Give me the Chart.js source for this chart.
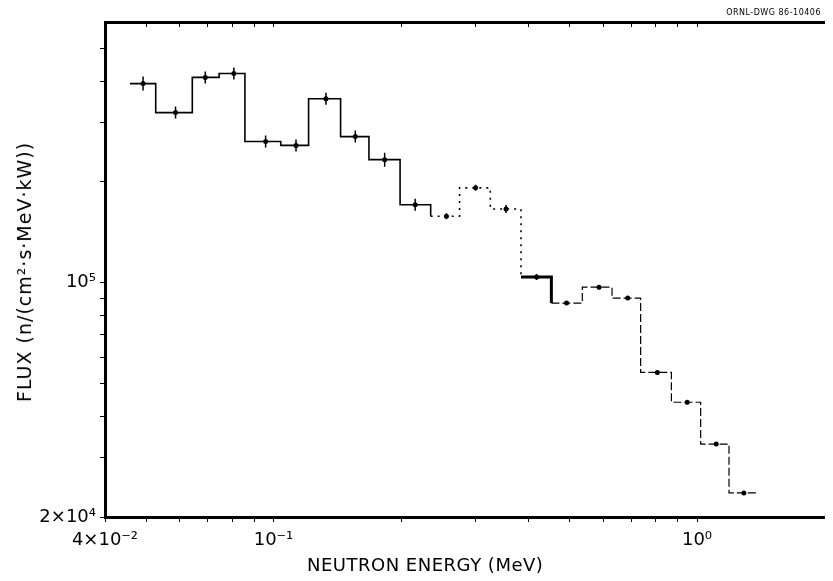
<!DOCTYPE html>
<html>
<head>
<meta charset="utf-8">
<script src="https://cdn.jsdelivr.net/npm/chart.js@4/dist/chart.umd.min.js"></script>
<style>
    body { margin: 0; background: #fff; }
    #wrap { position: relative; width: 833px; height: 581px; }
    #grafico { position: absolute; left: 0; top: 0; }
    .txt { position: absolute; font-family: "DejaVu Sans", sans-serif; color: #000; white-space: nowrap; }
    #tituloX { left: 307px; top: 554px; font-size: 18px; letter-spacing: 0.5px; }
    #tituloY { left: 24px; top: 272px; font-size: 19px; letter-spacing: 1px; transform: translate(-50%, -50%) rotate(-90deg); }
    #dwg { right: 12px; top: 8px; font-size: 8px; letter-spacing: 0.5px; }
</style>
</head>
<body>
<div id="wrap">
    <canvas id="grafico" width="833" height="581"></canvas>
    <div class="txt" id="tituloX">NEUTRON ENERGY (MeV)</div>
    <div class="txt" id="tituloY">FLUX (n/(cm²·s·MeV·kW))</div>
    <div class="txt" id="dwg">ORNL-DWG 86-10406</div>
</div>
<script>
// bin edges (MeV) and flux per bin
var binEdges = [0.0458, 0.0527, 0.0643, 0.0744, 0.0856, 0.104, 0.121, 0.144, 0.168, 0.199, 0.235,
    0.275, 0.325, 0.384, 0.453, 0.536, 0.630, 0.736, 0.870, 1.02, 1.19, 1.39];
var binFlux = [3.93e5, 3.22e5, 4.10e5, 4.21e5, 2.64e5, 2.57e5, 3.54e5, 2.73e5, 2.33e5, 1.71e5,
    1.58e5, 1.92e5, 1.66e5, 1.04e5, 8.7e4, 9.7e4, 9.0e4, 5.4e4, 4.4e4, 3.3e4, 2.36e4];
// energies of the plotted points (bin middles)
var pointEnergy = [0.0492, 0.0587, 0.0690, 0.0806, 0.0958, 0.113, 0.133, 0.156, 0.183, 0.216,
    0.256, 0.300, 0.354, 0.418, 0.492, 0.587, 0.686, 0.806, 0.948, 1.11, 1.29];
var errSize = [7, 6, 6, 6, 6, 6, 6, 6, 7, 6, 3, 3, 4, 3, 2, 2, 2, 2, 2, 2, 2];

var xTicks = [0.05, 0.06, 0.07, 0.08, 0.09, 0.1, 0.2, 0.3, 0.4, 0.5, 0.6, 0.7, 0.8, 0.9, 1];
var xTickLabels = { "0.04": "4×10⁻²", "0.1": "10⁻¹", "1": "10⁰" };
var yTicks = [2e4, 3e4, 4e4, 5e4, 6e4, 7e4, 8e4, 9e4, 1e5, 2e5, 3e5, 4e5, 5e5];
var yTickLabels = { "20000": "2×10⁴", "100000": "10⁵" };

var xMin = 0.04, xMax = 2, yMin = 2e4, yMax = 6e5;

var stepData = binEdges.map(function (e, i) {
    return { x: e, y: binFlux[Math.min(i, binFlux.length - 1)] };
});
var pontos = pointEnergy.map(function (e, i) { return { x: e, y: binFlux[i] }; });

var fonte = { family: "DejaVu Sans", size: 18 };

var context = document.getElementById("grafico");
var chartGraph = new Chart(context, {
    type: "scatter",
    data: {
        datasets: [{
            type: "line",
            data: stepData,
            stepped: "before",
            borderColor: "#000",
            borderWidth: 1.6,
            pointRadius: 0,
            fill: false,
            segment: {
                borderDash: function (ctx) {
                    var i = ctx.p0DataIndex;
                    if (i >= 10 && i <= 12) return [2, 5];
                    if (i >= 14) return [8, 3];
                    return undefined;
                },
                borderWidth: function (ctx) {
                    var i = ctx.p0DataIndex;
                    if (i == 13) return 3;
                    if (i >= 14) return 1.2;
                    return undefined;
                }
            }
        }, {
            data: pontos,
            pointStyle: "line",
            rotation: 90,
            pointRadius: errSize,
            borderColor: "#000",
            borderWidth: 1.5
        }, {
            data: pontos,
            pointStyle: "circle",
            pointRadius: 2.5,
            backgroundColor: "#000",
            borderColor: "#000",
            borderWidth: 0
        }]
    },
    options: {
        responsive: false,
        animation: false,
        events: [],
        layout: { padding: { left: 0, right: 2, top: 0, bottom: 0 } },
        plugins: {
            legend: { display: false },
            tooltip: { enabled: false }
        },
        scales: {
            x: {
                type: "logarithmic",
                position: "bottom",
                min: xMin,
                max: xMax,
                afterBuildTicks: function (s) {
                    s.ticks = [xMin].concat(xTicks).map(function (v) { return { value: v }; });
                },
                afterFit: function (s) { s.height = 64; },
                ticks: {
                    color: "#000",
                    font: fonte,
                    padding: 8,
                    maxRotation: 0,
                    autoSkip: false,
                    callback: function (v) { return xTickLabels[String(v)] || ""; }
                },
                grid: { drawOnChartArea: false, color: "#000", tickLength: 5, lineWidth: 1 },
                border: { color: "#000", width: 3 }
            },
            xTop: {
                type: "logarithmic",
                position: "top",
                min: xMin,
                max: xMax,
                afterBuildTicks: function (s) {
                    s.ticks = xTicks.map(function (v) { return { value: v }; });
                },
                afterFit: function (s) { s.height = 22; },
                ticks: { display: false },
                grid: { drawOnChartArea: false, color: "#000", tickLength: -5, lineWidth: 1 },
                border: { color: "#000", width: 3 }
            },
            y: {
                type: "logarithmic",
                position: "left",
                min: yMin,
                max: yMax,
                afterBuildTicks: function (s) {
                    s.ticks = yTicks.map(function (v) { return { value: v }; });
                },
                afterFit: function (s) { s.width = 105; },
                ticks: {
                    color: "#000",
                    font: fonte,
                    padding: 4,
                    autoSkip: false,
                    callback: function (v) { return yTickLabels[String(v)] || ""; }
                },
                grid: { drawOnChartArea: false, color: "#000", tickLength: 5, lineWidth: 1 },
                border: { color: "#000", width: 3 }
            }
        }
    }
});
</script>
</body>
</html>
